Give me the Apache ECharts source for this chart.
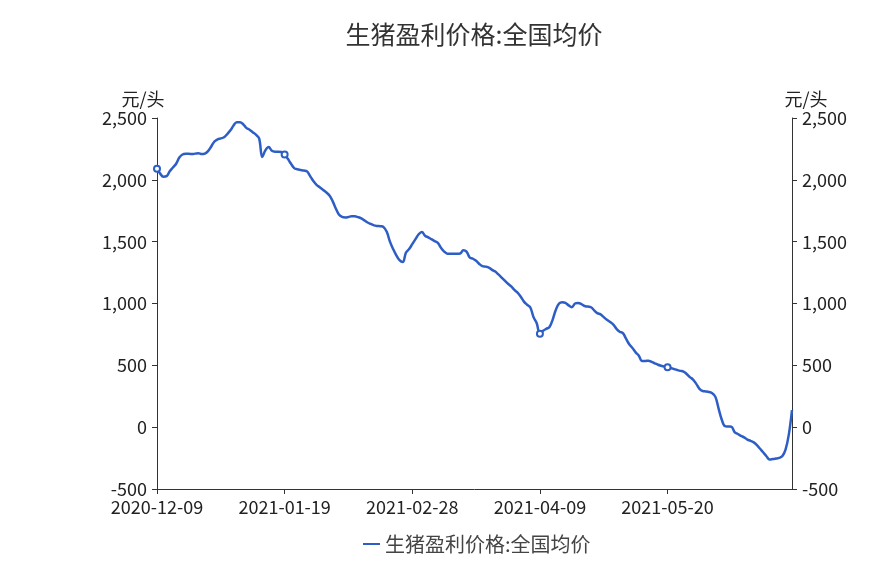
<!DOCTYPE html>
<html>
<head>
<meta charset="utf-8">
<script src="https://cdn.jsdelivr.net/npm/echarts@6/dist/echarts.min.js"></script>
<style>
html,body{margin:0;padding:0;background:#fff;}
#chart{width:889px;height:574px;}
</style>
</head>
<body>
<div id="chart"></div>
<script>
// ---- data ----
const titleText = '生猪盈利价格:全国均价';
const seriesName = '生猪盈利价格:全国均价';
const unitName = '元/头';
const startDate = '2020-12-09';
const endDate = '2021-06-28';
const skippedDates = ['2021-01-01', '2021-05-01'];
const yTicks = [-500, 0, 500, 1000, 1500, 2000, 2500];
const markerIndices = [0, 40, 120, 160];
const values = [
  2090, 2050, 2025, 2030, 2070, 2100, 2130, 2180, 2205, 2210,
  2210, 2208, 2212, 2215, 2208, 2212, 2232, 2270, 2310, 2328,
  2335, 2345, 2370, 2400, 2440, 2465, 2465, 2450, 2420, 2405,
  2385, 2365, 2335, 2185, 2240, 2265, 2235, 2228, 2228, 2225,
  2205, 2170, 2130, 2095, 2085, 2080, 2075, 2068, 2030, 1990,
  1960, 1940, 1920, 1900, 1875, 1830, 1770, 1720, 1700, 1695,
  1700, 1705, 1705, 1698, 1688, 1672, 1655, 1643, 1632, 1627,
  1625, 1618, 1580, 1500, 1440, 1390, 1350, 1335, 1410, 1440,
  1480, 1520, 1560, 1578, 1548, 1535, 1520, 1505, 1490, 1450,
  1420, 1403, 1403, 1403, 1403, 1405, 1430, 1420, 1372, 1362,
  1345, 1320, 1302, 1298, 1290, 1272, 1258, 1235, 1210, 1185,
  1160, 1138, 1110, 1088, 1055, 1015, 990, 968, 890, 840,
  755, 780, 795, 810, 870, 950, 1000, 1010, 1005, 985,
  970, 1000, 1005, 995, 980, 975, 970, 945, 922, 912,
  890, 868, 850, 830, 795, 772, 760, 715, 670, 640,
  605, 578, 535, 535, 538, 528, 516, 505, 497, 490,
  484, 478, 470, 462, 455, 450, 430, 405, 385, 350,
  310, 292, 289, 284, 275, 245, 150, 60, 8, 5,
  4, -40, -55, -70, -82, -100, -110, -123, -145, -175,
  -205, -235, -262, -258, -254, -248, -233, -179, -60, 138
];

// ---- categories (daily dates from start to end, skipping listed days) ----
function buildDates(start, end, skip) {
  const out = [];
  const d = new Date(start + 'T00:00:00Z');
  const e = new Date(end + 'T00:00:00Z');
  while (d <= e) {
    const s = d.toISOString().slice(0, 10);
    if (skip.indexOf(s) < 0) out.push(s);
    d.setUTCDate(d.getUTCDate() + 1);
  }
  return out;
}
const categories = buildDates(startDate, endDate, skippedDates);

const seriesData = values.map((v, i) =>
  markerIndices.indexOf(i) >= 0 ? { value: v, symbol: 'emptyCircle' } : v
);

const FONT = 'Noto Sans CJK SC';
const lineColor = '#2d5ec6';
const textColor = '#222';

function fmt(v) { return v.toLocaleString('en-US'); }

const yAxisBase = {
  type: 'value',
  min: yTicks[0],
  max: yTicks[yTicks.length - 1],
  interval: 500,
  name: unitName,
  nameGap: 10,
  splitLine: { show: false },
  axisLine: { show: true, lineStyle: { color: '#333', width: 1 } },
  axisTick: { show: true, length: 5, lineStyle: { color: '#333' } },
  axisLabel: { color: textColor, fontSize: 18, fontFamily: FONT, margin: 10, formatter: fmt }
};

const chart = echarts.init(document.getElementById('chart'), null, { renderer: 'canvas' });
chart.setOption({
  animation: false,
  textStyle: { fontFamily: FONT },
  title: {
    text: titleText,
    left: 469,
    textAlign: 'center',
    top: 17,
    textStyle: { fontSize: 25, fontWeight: 'normal', color: '#333', fontFamily: FONT }
  },
  legend: {
    data: [seriesName],
    left: 358,
    top: 529,
    icon: 'rect',
    itemWidth: 17,
    itemHeight: 2,
    itemGap: 10,
    itemStyle: { borderWidth: 0 },
    textStyle: { fontSize: 20, color: '#444', fontFamily: FONT }
  },
  grid: { left: 157, right: 97, top: 118, bottom: 85, containLabel: false },
  xAxis: {
    type: 'category',
    data: categories,
    boundaryGap: false,
    axisLine: { onZero: false, lineStyle: { color: '#333' } },
    axisTick: { show: true, length: 5, interval: 39, lineStyle: { color: '#333' } },
    axisLabel: { interval: 39, color: textColor, fontSize: 18, fontFamily: FONT, margin: 9 },
    splitLine: { show: false }
  },
  yAxis: [
    Object.assign({}, yAxisBase, {
      position: 'left',
      nameTextStyle: { color: textColor, fontSize: 18, fontFamily: FONT, padding: [0, 28, 0, 0] }
    }),
    Object.assign({}, yAxisBase, {
      position: 'right',
      nameTextStyle: { color: textColor, fontSize: 18, fontFamily: FONT, padding: [0, 0, 0, 28] }
    })
  ],
  series: [{
    name: seriesName,
    type: 'line',
    yAxisIndex: 0,
    data: seriesData,
    smooth: 0.4,
    symbol: 'none',
    showSymbol: true,
    showAllSymbol: true,
    symbolSize: 6,
    lineStyle: { color: lineColor, width: 2.5 },
    itemStyle: { color: lineColor, borderColor: lineColor, borderWidth: 1.2 }
  }]
});
</script>
</body>
</html>
